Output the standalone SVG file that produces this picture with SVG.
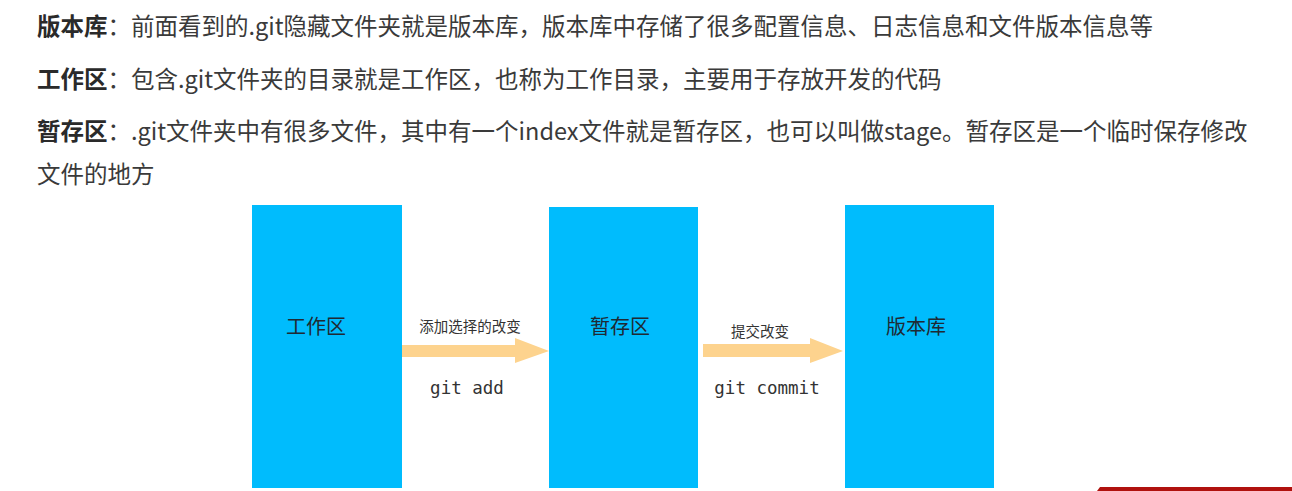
<svg xmlns="http://www.w3.org/2000/svg" width="1292" height="491" viewBox="0 0 1292 491">
<style>
.para{font-family:"Noto Sans CJK SC","Noto Sans",sans-serif;font-size:23.5px;fill:#3a3a3a}
.b{font-weight:bold;fill:#2a2a2a}
.box{fill:#00bcfd}
.lbl{font-family:"Noto Sans CJK SC",sans-serif;font-size:20px;fill:#1f2a33;text-anchor:middle}
.cl{font-family:"Noto Sans CJK SC",sans-serif;font-size:14.5px;fill:#333;text-anchor:middle}
.cmd{font-family:"DejaVu Sans Mono","Liberation Mono",monospace;font-size:17.5px;fill:#333;text-anchor:middle}
.arr{fill:#fdd38e}
</style>
<rect width="1292" height="491" fill="#ffffff"/>
<g id="text">
<text class="para" x="37" y="35"><tspan class="b">版本库</tspan>：前面看到的.git隐藏文件夹就是版本库，版本库中存储了很多配置信息、日志信息和文件版本信息等</text>
<text class="para" x="37" y="88"><tspan class="b">工作区</tspan>：包含.git文件夹的目录就是工作区，也称为工作目录，主要用于存放开发的代码</text>
<text class="para" x="37" y="140"><tspan class="b">暂存区</tspan>：.git文件夹中有很多文件，其中有一个index文件就是暂存区，也可以叫做stage。暂存区是一个临时保存修改</text>
<text class="para" x="37" y="183">文件的地方</text>
</g>
<g id="node-work">
<rect class="box" x="252" y="205" width="150" height="283"/>
<text class="lbl" x="316" y="334">工作区</text>
</g>
<g id="node-stage">
<rect class="box" x="549" y="207" width="149" height="281"/>
<text class="lbl" x="620" y="334">暂存区</text>
</g>
<g id="node-repo">
<rect class="box" x="845" y="205" width="149" height="283"/>
<text class="lbl" x="916" y="334">版本库</text>
</g>
<g id="connectors">
<polygon class="arr" points="402,345 515,345 515,338 549,351 515,363 515,357 402,357"/>
<text class="cl" x="470" y="332">添加选择的改变</text>
<text class="cmd" x="467" y="394">git add</text>
<polygon class="arr" points="703,344 810,344 810,338 843,351 810,363 810,357 703,357"/>
<text class="cl" x="760" y="337">提交改变</text>
<text class="cmd" x="767" y="394">git commit</text>
</g>
<polygon points="1097,491 1100,487 1292,487 1292,491" fill="#b0120e"/>
</svg>
